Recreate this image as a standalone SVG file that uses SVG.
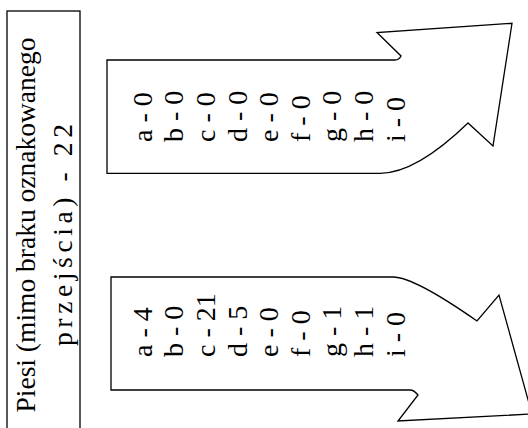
<svg xmlns="http://www.w3.org/2000/svg" width="528" height="428" viewBox="0 0 528 428">
<style>
.shape{fill:#fff;stroke:#000;stroke-width:1.3;stroke-linejoin:miter}
.t{font-family:"Liberation Serif","Times New Roman",serif;font-size:27.5px;fill:#000}
.c{font-family:"Liberation Serif","Times New Roman",serif;font-size:28px;fill:#000}
</style>
<rect width="528" height="428" fill="#fff"/>
<g id="box-piesi">
<rect class="shape" x="7" y="11" width="73" height="430"/>
<text class="t" text-anchor="middle" transform="translate(34.5,225) rotate(-90)">Piesi (mimo braku oznakowanego</text>
<text class="t" text-anchor="middle" textLength="222" lengthAdjust="spacing" transform="translate(72,235) rotate(-90)">przejścia) - 22</text>
</g>
<g id="arrow-top">
<path class="shape" d="M107,60 L395,60 Q399,60 401,56 L377,32.5 L512,23.3 L493,146 L468,123 Q416,173.3 380,173.3 L107,173.3 Z"/>
<g class="c">
<text transform="translate(151.7,142) rotate(-90)">a - 0</text>
<text transform="translate(183.3,142) rotate(-90)">b - 0</text>
<text transform="translate(214.9,142) rotate(-90)">c - 0</text>
<text transform="translate(246.5,142) rotate(-90)">d - 0</text>
<text transform="translate(278.1,142) rotate(-90)">e - 0</text>
<text transform="translate(309.7,142) rotate(-90)">f - 0</text>
<text transform="translate(341.3,142) rotate(-90)">g - 0</text>
<text transform="translate(372.9,142) rotate(-90)">h - 0</text>
<text transform="translate(404.5,142) rotate(-90)">i - 0</text>
</g>
</g>
<g id="arrow-bottom">
<path class="shape" d="M111,277 L393,277 Q414,277 477,321 L499,295 L532,414 L398,421 L418,395 Q414,390 410,390 L111,390 Z"/>
<g class="c">
<text transform="translate(151.7,357) rotate(-90)">a - 4</text>
<text transform="translate(183.3,357) rotate(-90)">b - 0</text>
<text transform="translate(214.9,357) rotate(-90)">c - 21</text>
<text transform="translate(246.5,357) rotate(-90)">d - 5</text>
<text transform="translate(278.1,357) rotate(-90)">e - 0</text>
<text transform="translate(309.7,357) rotate(-90)">f - 0</text>
<text transform="translate(341.3,357) rotate(-90)">g - 1</text>
<text transform="translate(372.9,357) rotate(-90)">h - 1</text>
<text transform="translate(404.5,357) rotate(-90)">i - 0</text>
</g>
</g>
<g id="connectors"></g>
</svg>
